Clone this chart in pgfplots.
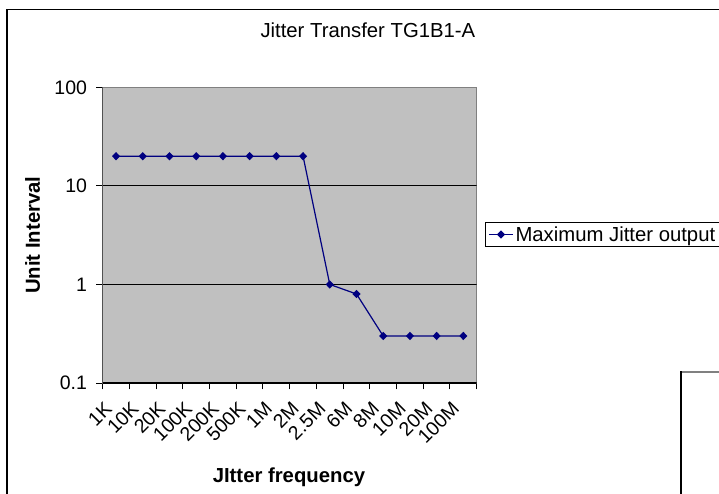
\documentclass[border=0pt]{standalone}
\usepackage{pgfplots}
\pgfplotsset{compat=1.18}
\usepackage{fontspec}
\setmainfont{Liberation Sans}
\definecolor{navyc}{HTML}{000080}
\definecolor{plotgray}{HTML}{C0C0C0}
\definecolor{bordgray}{HTML}{808080}
\newcommand{\fnt}{\fontsize{20.3}{23}\selectfont}
\newcommand{\tfnt}{\fontsize{19.5}{22}\selectfont}
\begin{document}
\begin{tikzpicture}[x=1pt,y=1pt]
\useasboundingbox (0,0) rectangle (719,493);
\begin{scope}
\clip (0,0) rectangle (719,493);
\draw[black, line width=1.3pt] (7,-5) -- (7,483.5) -- (725,483.5);
\draw[bordgray, line width=1.3pt] (681,121) -- (725,121);
\draw[black, line width=1.3pt] (681,-5) -- (681,121.6);
\begin{axis}[
  at={(102.7pt,110pt)}, anchor=south west,
  scale only axis, width=374pt, height=295.7pt,
  xmin=0, xmax=14, ymode=log, ymin=0.1, ymax=100,
  /pgf/number format/assume math mode=true,
  xtick={0,...,14}, xticklabels={},
  ytick={0.1,1,10,100}, yticklabels={0.1,1,10,100}, yminorticks=false,
  tick align=outside, major tick length=6.5pt,
  xtick pos=bottom, ytick pos=left,
  axis line style={bordgray, line width=1pt},
  tick style={black, line width=1pt},
  axis background/.style={fill=plotgray},
  yticklabel style={font=\tfnt, inner sep=0pt, anchor=east, xshift=-9pt},
  extra x ticks={0.5,1.5,2.5,3.5,4.5,5.5,6.5,7.5,8.5,9.5,10.5,11.5,12.5,13.5},
  extra x tick labels={1K,10K,20K,100K,200K,500K,1M,2M,2.5M,6M,8M,10M,20M,100M},
  extra x tick style={major tick length=0pt, tick style={draw=none},
    xticklabel style={font=\tfnt, inner sep=0pt, anchor=north east, xshift=-12.5pt, yshift=-17.5pt, rotate=45}},
  title={Jitter Transfer TG1B1-A},
  title style={at={(axis description cs:0.709,1.1488)}, anchor=base, yshift=0pt, font=\fnt},
  xlabel={JItter frequency},
  xlabel style={at={(axis description cs:0.498,-0.3348)}, anchor=base, font=\fnt\bfseries},
  ylabel={Unit Interval},
  ylabel style={at={(axis description cs:-0.1877,0.5)}, anchor=center, font=\fnt\bfseries},
  legend style={at={(axis description cs:1.022,0.5445)}, anchor=north west, draw=black, fill=white, font=\fnt, line width=0.8pt},
  legend cell align=left,
  legend image code/.code={\draw[mark repeat=2, mark phase=2] plot coordinates {(0pt,0pt) (12pt,0pt) (24pt,0pt)};},
]
\draw[black, line width=1pt] (axis cs:0,10) -- (axis cs:14,10);
\draw[black, line width=1pt] (axis cs:0,1) -- (axis cs:14,1);
\addplot[navyc, line width=1.2pt, mark=diamond*, mark size=3.3pt, mark options={xscale=1.3, solid}] coordinates {
  (0.5,20) (1.5,20) (2.5,20) (3.5,20) (4.5,20) (5.5,20) (6.5,20) (7.5,20)
  (8.5,1) (9.5,0.8) (10.5,0.3) (11.5,0.3) (12.5,0.3) (13.5,0.3)
};
\addlegendentry{\makebox[230pt][l]{Maximum Jitter output}}
\draw[black, line width=1.3pt] (rel axis cs:0,1) -- (rel axis cs:0,0) -- (rel axis cs:1,0);
\end{axis}
\end{scope}
\end{tikzpicture}
\end{document}
